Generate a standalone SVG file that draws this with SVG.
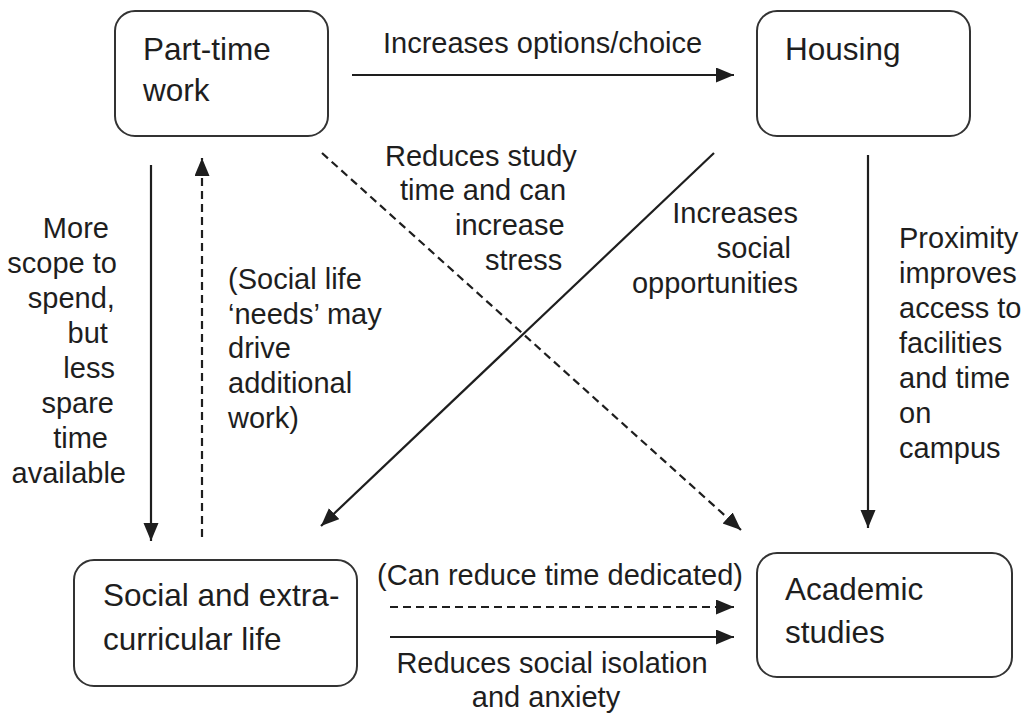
<svg xmlns="http://www.w3.org/2000/svg" width="1024" height="715" viewBox="0 0 1024 715">
<style>
  .box { fill: #ffffff; stroke: #333333; stroke-width: 2; }
  .node { font-family: "Liberation Sans", Arial, sans-serif; font-size: 31.5px; fill: #1e1e1e; }
  .lbl { font-family: "Liberation Sans", Arial, sans-serif; font-size: 29px; fill: #1e1e1e; }
  .end { text-anchor: end; }
  .mid { text-anchor: middle; }
  .solid { fill: none; stroke: #1e1e1e; stroke-width: 2.2; marker-end: url(#ah); }
  .dash { fill: none; stroke: #1e1e1e; stroke-width: 2.2; stroke-dasharray: 8 5; marker-end: url(#ah); }
</style>
<defs>
  <marker id="ah" markerUnits="userSpaceOnUse" markerWidth="20" markerHeight="16" refX="18" refY="7.5" orient="auto">
    <path d="M0,0 L18,7.5 L0,15 Z" fill="#1e1e1e" stroke="none"/>
  </marker>
</defs>
<rect width="1024" height="715" fill="#ffffff"/>

<g id="connectors">
  <line class="solid" x1="352" y1="75" x2="734" y2="75"/>
  <line class="solid" x1="151" y1="165" x2="151" y2="541"/>
  <line class="dash" x1="202" y1="537" x2="202" y2="158"/>
  <line class="dash" x1="322" y1="153" x2="741" y2="530"/>
  <line class="solid" x1="714" y1="153" x2="321" y2="526"/>
  <line class="solid" x1="868" y1="155" x2="868" y2="528"/>
  <line class="dash" x1="390" y1="607" x2="734" y2="607"/>
  <line class="solid" x1="390" y1="637" x2="734" y2="637"/>
</g>

<g id="edge-labels">
  <text class="lbl" x="383" y="53">Increases options/choice</text>
  <text class="lbl end">
    <tspan x="117" y="238">More</tspan>
    <tspan x="125" y="273">scope to</tspan>
    <tspan x="123" y="308">spend,</tspan>
    <tspan x="116" y="343">but</tspan>
    <tspan x="123" y="378">less</tspan>
    <tspan x="122" y="413">spare</tspan>
    <tspan x="116" y="448">time</tspan>
    <tspan x="126" y="483">available</tspan>
  </text>
  <text class="lbl">
    <tspan x="228" y="289">(Social life</tspan>
    <tspan x="228" y="324">‘needs’ may</tspan>
    <tspan x="228" y="358">drive</tspan>
    <tspan x="228" y="393">additional</tspan>
    <tspan x="228" y="428">work)</tspan>
  </text>
  <text class="lbl">
    <tspan x="385" y="166">Reduces study</tspan>
    <tspan x="400" y="200">time and can</tspan>
    <tspan x="455" y="235">increase</tspan>
    <tspan x="485" y="270">stress</tspan>
  </text>
  <text class="lbl end">
    <tspan x="806" y="223">Increases</tspan>
    <tspan x="799" y="258">social</tspan>
    <tspan x="798" y="293">opportunities</tspan>
  </text>
  <text class="lbl">
    <tspan x="899" y="248">Proximity</tspan>
    <tspan x="899" y="283">improves</tspan>
    <tspan x="899" y="318">access to</tspan>
    <tspan x="899" y="353">facilities</tspan>
    <tspan x="899" y="388">and time</tspan>
    <tspan x="899" y="423">on</tspan>
    <tspan x="899" y="458">campus</tspan>
  </text>
  <text class="lbl mid" x="560" y="585">(Can reduce time dedicated)</text>
  <text class="lbl mid">
    <tspan x="556" y="673">Reduces social isolation</tspan>
    <tspan x="546" y="707">and anxiety</tspan>
  </text>
</g>

<g id="node-parttime">
  <rect class="box" x="115" y="11" width="213" height="125" rx="20" ry="20"/>
  <text class="node"><tspan x="143" y="60">Part-time</tspan><tspan x="143" y="101">work</tspan></text>
</g>
<g id="node-housing">
  <rect class="box" x="757" y="11" width="213" height="125" rx="20" ry="20"/>
  <text class="node" x="785" y="60">Housing</text>
</g>
<g id="node-social">
  <rect class="box" x="74" y="560" width="283" height="126" rx="20" ry="20"/>
  <text class="node"><tspan x="103" y="606">Social and extra-</tspan><tspan x="103" y="650">curricular life</tspan></text>
</g>
<g id="node-academic">
  <rect class="box" x="757" y="553" width="255" height="124" rx="20" ry="20"/>
  <text class="node"><tspan x="785" y="600">Academic</tspan><tspan x="785" y="643">studies</tspan></text>
</g>
</svg>
